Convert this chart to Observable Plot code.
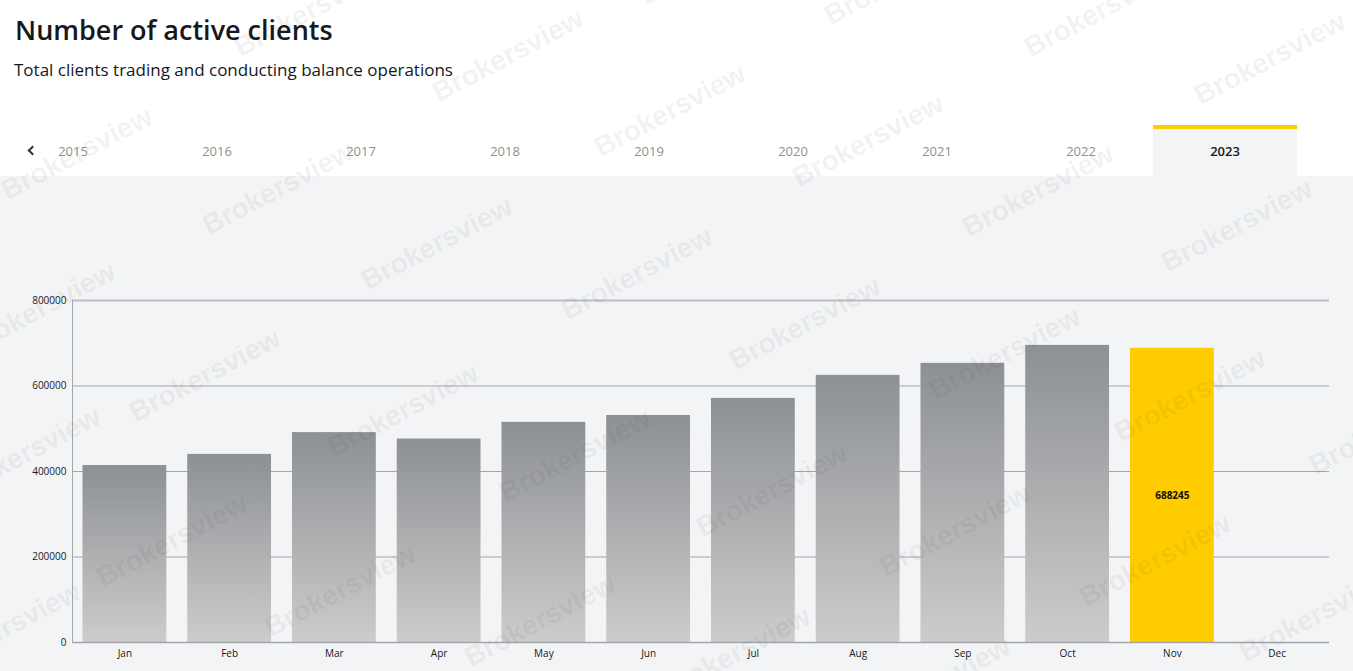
<!DOCTYPE html>
<html><head><meta charset="utf-8">
<script src="https://cdn.jsdelivr.net/npm/d3@7"></script>
<script src="https://cdn.jsdelivr.net/npm/@observablehq/plot@0.6"></script>
<style>
html,body{margin:0;padding:0;background:#fff;width:1353px;height:671px;overflow:hidden;font-family:"Open Sans",sans-serif;}
#title{position:absolute;left:15px;top:10px;font-size:27px;font-weight:600;line-height:40px;color:#15181c;white-space:nowrap}
#sub{position:absolute;left:14px;top:57px;font-size:17px;line-height:26px;color:#15181c;white-space:nowrap}
#panel{position:absolute;left:0;top:176px;width:1353px;height:495px;background:#f3f4f6}
#panel svg{display:block;background:transparent}
.tab{position:absolute;top:125px;width:144px;height:51px;line-height:52px;text-align:center;font-size:13px;color:#8f8f8f;box-sizing:border-box}
.tab.on{background:#f3f4f6;border-top:4px solid #ffcc00;line-height:44px;color:#15181c;font-weight:600}
#chev{position:absolute;left:29px;top:147px;width:5px;height:5px;border-left:2px solid #333;border-bottom:2px solid #333;transform:rotate(45deg)}
#wm{position:absolute;inset:0;overflow:hidden;pointer-events:none}
#wm span{position:absolute;font:bold 28px "Liberation Sans",Arial,sans-serif;color:rgba(60,60,60,.07);white-space:nowrap;transform-origin:0 100%;transform:rotate(-28deg);line-height:28px}
</style></head><body>
<div id="title">Number of active clients</div>
<div id="sub">Total clients trading and conducting balance operations</div>
<div id="panel"></div>
<div id="chev"></div>
<div id="wm"></div>
<script>
const months = ["Jan","Feb","Mar","Apr","May","Jun","Jul","Aug","Sep","Oct","Nov","Dec"];
const clients = [414000,440000,491000,476000,515000,531000,571000,625000,653000,695000,688245,null];
const highlighted = "Nov";
const yTicks = [0,200000,400000,600000,800000];
const years = [2015,2016,2017,2018,2019,2020,2021,2022,2023];
const activeYear = 2023;
const watermarkAt = [[10,205],[211,240],[370,295],[570,325],[738,375],[938,405],[1123,447],[1318,480],
 [138,427],[336,462],[508,507],[705,542],[888,582],[1088,612],[1248,667],
 [105,592],[273,642],[473,672],[668,705],[868,735],
 [-27,360],[-42,505],[-62,680],[243,62],[441,107],[603,162],[801,192],[971,242],[1170,277],
 [833,30],[1033,62],[1203,110],[648,10]];

const rows = months.map((month,i)=>({month,value:clients[i]}));
const bars = rows.filter(d=>d.value!=null);

years.forEach((y,i)=>{
  const t=document.createElement("div");
  t.className="tab"+(y===activeYear?" on":"");
  t.textContent=y;
  t.style.left=(1+144*i)+"px";
  document.body.appendChild(t);
});
const wm=document.getElementById("wm");
watermarkAt.forEach(([x,y])=>{
  const s=document.createElement("span");
  s.textContent="Brokersview";
  s.style.left=x+"px"; s.style.top=(y-28)+"px";
  wm.appendChild(s);
});

const gradient = () => {
  const defs=d3.create("svg:defs");
  const g=defs.append("linearGradient").attr("id","barFade").attr("x1",0).attr("x2",0).attr("y1",0).attr("y2",1);
  g.append("stop").attr("offset","0%").attr("stop-color","#8d9094");
  g.append("stop").attr("offset","100%").attr("stop-color","#cccccc");
  return defs.node();
};

const chart = Plot.plot({
  width:1353,height:495,
  marginLeft:72,marginRight:24,marginTop:124,marginBottom:29,
  style:{background:"transparent",fontFamily:"'Open Sans',sans-serif",fontSize:"10px",color:"#15181c"},
  x:{domain:months,paddingInner:0.2,paddingOuter:0.1,round:false,label:null,tickSize:0,tickPadding:7},
  y:{domain:[0,800000],ticks:yTicks,tickFormat:d=>String(d),label:null,tickSize:0,tickPadding:6},
  marks:[
    gradient,
    Plot.ruleY(yTicks.filter(d=>d>0&&d<800000),{stroke:"#a2a5aa",strokeWidth:1}),
    Plot.ruleY([800000],{stroke:"#bcbec3",strokeWidth:2}),
    Plot.barY(bars,{x:"month",y:"value",fill:d=>d.month===highlighted?"#ffcc00":"url(#barFade)"}),
    Plot.frame({anchor:"left",stroke:"#a2a5aa",strokeWidth:1}),
    Plot.ruleY([0],{stroke:"#a2a5aa",strokeWidth:1.5}),
    Plot.text(bars.filter(d=>d.month===highlighted),{x:"month",y:d=>d.value/2,text:d=>String(d.value),fontWeight:"bold",fill:"#111",fontSize:10})
  ]
});
document.getElementById("panel").appendChild(chart);
</script>
</body></html>
